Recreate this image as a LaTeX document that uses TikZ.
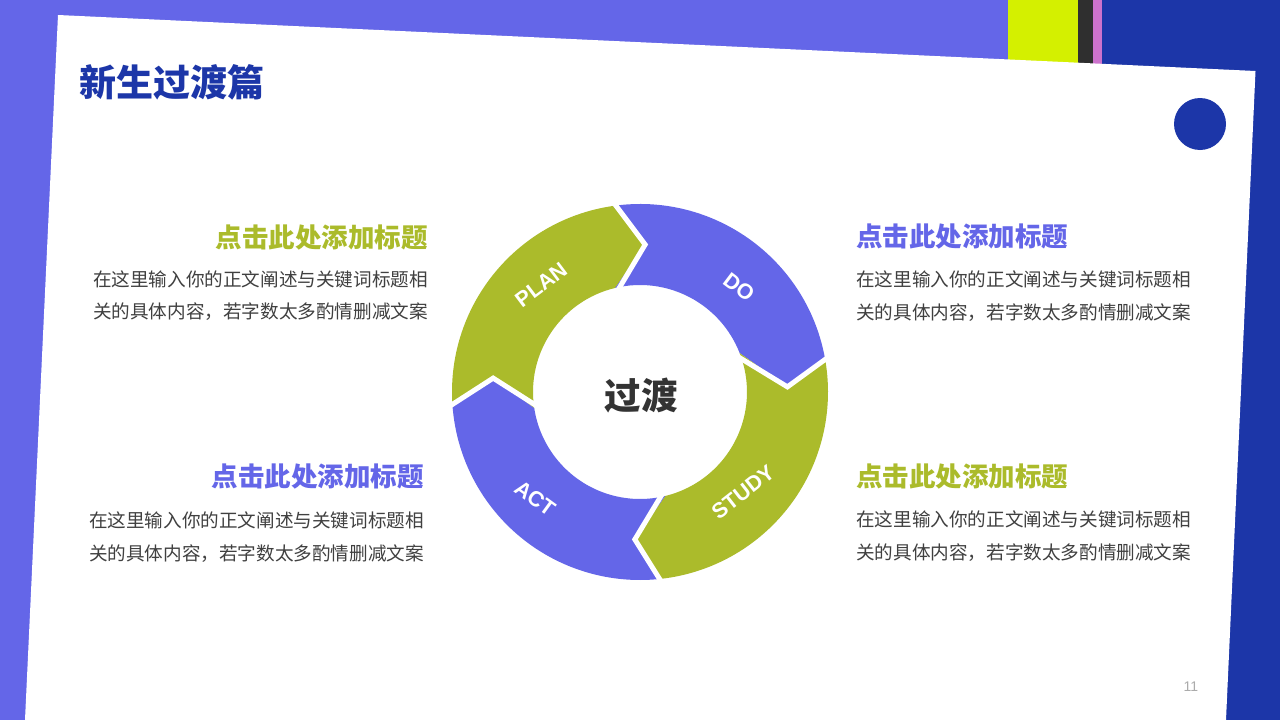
\documentclass[tikz,border=0pt]{standalone}
\usepackage{fontspec}
\setmainfont{Liberation Sans}
\newfontfamily\cjk{Noto Sans CJK SC}
\definecolor{bgpurple}{HTML}{6466E8}
\definecolor{navy}{HTML}{1C36A8}
\definecolor{limestripe}{HTML}{D4F000}
\definecolor{darkstripe}{HTML}{2F2F2F}
\definecolor{pinkstripe}{HTML}{CC72CC}
\definecolor{olive}{HTML}{ABBB2B}
\definecolor{bodygray}{HTML}{404040}
\definecolor{centergray}{HTML}{333333}
\definecolor{pagegray}{HTML}{ABABAB}
\tikzset{
  maintitle/.style={font=\cjk\bfseries\fontsize{37}{40}\selectfont, text=navy, inner sep=0pt, anchor=base west},
  sectitle/.style={font=\cjk\bfseries\fontsize{26.5}{30}\selectfont, inner sep=0pt},
  bodyline/.style={font=\cjk\fontsize{18.6}{22}\selectfont, text=bodygray, inner sep=0pt},
  cyclabel/.style={font=\bfseries\fontsize{21.5}{23}\selectfont, text=white, inner sep=0pt},
  chev/.style={draw=white, line width=5pt, line join=miter, line cap=butt},
}
\begin{document}
\begin{tikzpicture}[x=1pt,y=-1pt]
\useasboundingbox (0,0) rectangle (1280,720);
% background
\fill[bgpurple] (0,0) rectangle (1280,720);
\fill[navy] (1102,0) rectangle (1280,720);
\fill[limestripe] (1008,0) rectangle (1078,80);
\fill[darkstripe] (1078,0) rectangle (1093,80);
\fill[pinkstripe] (1093,0) rectangle (1102,80);
\fill[white] (58,15) -- (1255.5,71) -- (1226,720) -- (25,720) -- cycle;
\fill[navy] (1200,124) circle[radius=26];
% title
\node[maintitle] (title) at (79,96) {新生过渡篇};
% cycle
\begin{scope}[shift={(640,392)}, yscale=-1]
  \def\Ro{188}\def\Ri{107}\def\Rm{147.5}
  % PLAN (green)
  \fill[olive] (184.6:\Ro) arc[start angle=184.6, end angle=98.2, radius=\Ro] -- (88:\Rm) -- (103.4:\Ri) arc[start angle=103.4, end angle=188.7, radius=\Ri] -- (174.6:\Rm) -- cycle;
  % DO (purple)
  \fill[bgpurple] (98.2:\Ro) arc[start angle=98.2, end angle=10.7, radius=\Ro] -- (2:\Rm) -- (21.3:\Ri) arc[start angle=21.3, end angle=103.4, radius=\Ri] -- (88:\Rm) -- cycle;
  % STUDY (green)
  \fill[olive] (10.7:\Ro) arc[start angle=10.7, end angle=-83.3, radius=\Ro] -- (-92:\Rm) -- (-76.4:\Ri) arc[start angle=-76.4, end angle=21.3, radius=\Ri] -- (2:\Rm) -- cycle;
  % ACT (purple)
  \fill[bgpurple] (-83.3:\Ro) arc[start angle=-83.3, end angle=-175.4, radius=\Ro] -- (-185.4:\Rm) -- (-171.3:\Ri) arc[start angle=-171.3, end angle=-76.4, radius=\Ri] -- (-92:\Rm) -- cycle;
  % white separators
  \draw[chev] (98.2:193) -- (88:\Rm) -- (103.4:102);
  \draw[chev] (10.7:193) -- (2:\Rm) -- (21.3:102);
  \draw[chev] (-83.3:193) -- (-92:\Rm) -- (-76.4:102);
  \draw[chev] (184.6:193) -- (174.6:\Rm) -- (188.7:102);
\end{scope}
\node[cyclabel, rotate=37] (plan) at (541,285) {PLAN};
\node[cyclabel, rotate=-37] (do) at (739,287) {DO};
\node[cyclabel, rotate=38] (study) at (743,492) {STUDY};
\node[cyclabel, rotate=-36] (act) at (535,498) {ACT};
\node[font=\cjk\bfseries\fontsize{36.5}{40}\selectfont, text=centergray, inner sep=0pt, anchor=base] (center) at (641,409) {过渡};
% left top block
\node[sectitle, text=olive, anchor=base east] (lt1) at (428,247) {点击此处添加标题};
\node[bodyline, anchor=base east] (lb1a) at (428,286) {在这里输入你的正文阐述与关键词标题相};
\node[bodyline, anchor=base east] (lb1b) at (428,318) {关的具体内容，若字数太多酌情删减文案};
% left bottom block
\node[sectitle, text=bgpurple, anchor=base east] (lt2) at (424,486) {点击此处添加标题};
\node[bodyline, anchor=base east] (lb2a) at (424,527) {在这里输入你的正文阐述与关键词标题相};
\node[bodyline, anchor=base east] (lb2b) at (424,560) {关的具体内容，若字数太多酌情删减文案};
% right top block
\node[sectitle, text=bgpurple, anchor=base west] (rt1) at (856,246) {点击此处添加标题};
\node[bodyline, anchor=base west] (rb1a) at (856,286) {在这里输入你的正文阐述与关键词标题相};
\node[bodyline, anchor=base west] (rb1b) at (856,319) {关的具体内容，若字数太多酌情删减文案};
% right bottom block
\node[sectitle, text=olive, anchor=base west] (rt2) at (856,486) {点击此处添加标题};
\node[bodyline, anchor=base west] (rb2a) at (856,526) {在这里输入你的正文阐述与关键词标题相};
\node[bodyline, anchor=base west] (rb2b) at (856,559) {关的具体内容，若字数太多酌情删减文案};
% page number
\node[font=\fontsize{14}{16}\selectfont, text=pagegray, inner sep=0pt] (pagenum) at (1191,687) {11};
\end{tikzpicture}
\end{document}
